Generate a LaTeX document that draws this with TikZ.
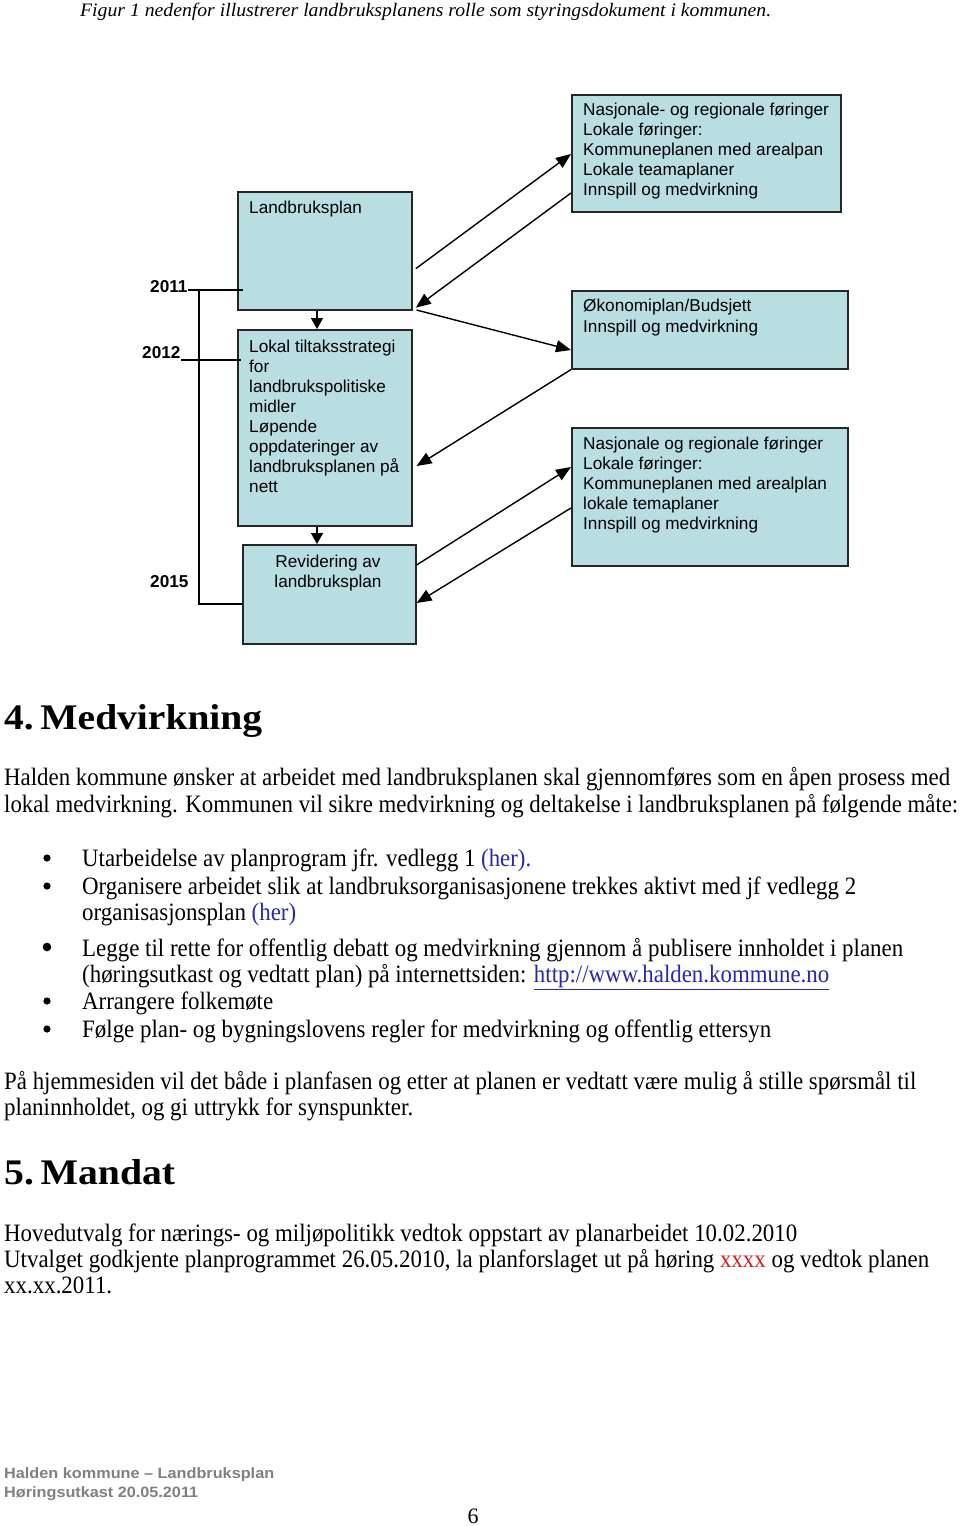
\documentclass[tikz,border=0pt]{standalone}
\usepackage{fontspec}
\usepackage{graphicx}
\setmainfont{Liberation Serif}
\newfontfamily\arial{Liberation Sans}
\usetikzlibrary{arrows.meta,calc}
\definecolor{boxfill}{RGB}{185,222,226}
\definecolor{linkblue}{RGB}{40,40,170}
\definecolor{xred}{RGB}{210,30,30}
\definecolor{footgray}{RGB}{128,128,128}
\newcommand\fitw[2]{\resizebox{#1pt}{\height}{#2}}
\newcommand\bodyfnt{\fontsize{25}{27}\selectfont}
\newcommand\headfnt{\bfseries\fontsize{36}{40}\selectfont}
\newcommand\diafnt{\arial\fontsize{17.2}{20}\selectfont}
\newcommand\footfnt{\arial\bfseries\fontsize{15}{18}\selectfont}
\begin{document}
\begin{tikzpicture}[x=1pt,y=-1pt,
  box/.style={draw=black!85,line width=1.6pt,fill=boxfill,inner sep=0pt,anchor=north west},
  dtext/.style={anchor=base west,inner sep=0pt,font=\diafnt},
  ctext/.style={anchor=base,inner sep=0pt,font=\diafnt},
  year/.style={anchor=base west,inner sep=0pt,font=\diafnt\bfseries},
  btext/.style={anchor=base west,inner sep=0pt,font=\bodyfnt},
  htext/.style={anchor=base west,inner sep=0pt,font=\headfnt},
  ftext/.style={anchor=base west,inner sep=0pt,font=\footfnt,text=footgray},
  arr/.style={line width=1.4pt,-{Triangle[length=15pt,width=12pt]}},
  darr/.style={line width=1.4pt,-{Triangle[length=11pt,width=12pt]}},
  tline/.style={line width=1.4pt},
  bullet/.style={fill=black}
]
\useasboundingbox (0,0) rectangle (960,1526);
\fill[white] (0,0) rectangle (960,1526);

% caption
\node[anchor=base west,inner sep=0pt,font=\itshape\fontsize{19}{22}\selectfont] (cap) at (80,16)
  {\fitw{691}{Figur 1 nedenfor illustrerer landbruksplanens rolle som styringsdokument i kommunen.}};

% ---------- diagram boxes ----------
\node[box,minimum width=174pt,minimum height=118pt] (lp) at (237,191) {};
\node[box,minimum width=174pt,minimum height=196pt] (b2) at (237,329) {};
\node[box,minimum width=173pt,minimum height=99pt] (b3) at (242,544) {};
\node[box,minimum width=269pt,minimum height=117pt] (r1) at (571,94) {};
\node[box,minimum width=276pt,minimum height=78pt] (r2) at (571,290) {};
\node[box,minimum width=276pt,minimum height=138pt] (r3) at (571,427) {};

% box texts
\node[dtext] (lpt) at (249,213) {Landbruksplan};
\foreach \t [count=\i] in {Lokal tiltaksstrategi,for,landbrukspolitiske,midler,Løpende,oppdateringer av,landbruksplanen på,nett}
  \node[dtext] (b2t\i) at (249,332+20*\i) {\t};
\node[ctext] (b3a) at (328,567) {Revidering av};
\node[ctext] (b3b) at (328,587) {landbruksplan};
\foreach \t [count=\i] in {Nasjonale- og regionale føringer,Lokale føringer:,Kommuneplanen med arealpan,Lokale teamaplaner,Innspill og medvirkning}
  \node[dtext] (r1t\i) at (583,94.8+20.2*\i) {\t};
\node[dtext] (r2a) at (583,311) {Økonomiplan/Budsjett};
\node[dtext] (r2b) at (583,332) {Innspill og medvirkning};
\foreach \t [count=\i] in {Nasjonale og regionale føringer,Lokale føringer:,Kommuneplanen med arealplan,lokale temaplaner,Innspill og medvirkning}
  \node[dtext] (r3t\i) at (583,428.8+20.2*\i) {\t};

% years and timeline
\node[year] (y11) at (150,292) {2011};
\node[year] (y12) at (142,358) {2012};
\node[year] (y15) at (150,587) {2015};
\coordinate (t11a) at (188,290);
\coordinate (t11b) at (243,290);
\coordinate (t12a) at (181,360);
\coordinate (t12b) at (241,360);
\coordinate (tv) at (199,290);
\coordinate (tb) at (199,604);
\draw[tline] (t11a) -- (t11b);
\draw[tline] (t12a) -- (t12b);
\draw[tline] (tv) -- (tb) -- (b3.west |- tb);

% vertical arrows
\draw[darr] (lp.south -| 317,0) -- (b2.north -| 317,0);
\draw[darr] (b2.south -| 317,0) -- (b3.north -| 317,0);

% diagonal arrows
\draw[arr,shorten <=4pt] (lp.east |- 0,271) -- (r1.west |- 0,154);
\draw[arr,shorten >=4pt] (r1.west |- 0,193) -- (lp.east |- 0,310);
\draw[arr,shorten <=4pt] (lp.east |- 0,309) -- (r2.west |- 0,350);
\draw[arr] (r2.south west) -- ($(b2.east |- 0,466)+(4,0)$);
\draw[arr] (b3.east |- 0,565) -- (r3.west |- 0,467);
\draw[arr] (r3.west |- 0,508) -- (b3.east |- 0,603);

% ---------- text ----------
\node[htext] (h4) at (4,729) {\fitw{258}{4.\kern-3pt\ Medvirkning}};
\node[btext] (p1a) at (4,785) {\fitw{946}{Halden kommune ønsker at arbeidet med landbruksplanen skal gjennomføres som en åpen prosess med}};
\node[btext] (p1b) at (4,812) {\fitw{954}{lokal medvirkning. Kommunen vil sikre medvirkning og deltakelse i landbruksplanen på følgende måte:}};

\fill[bullet] (47,858) circle (3.6);
\fill[bullet] (47,886) circle (3.6);
\fill[bullet] (47,947) circle (4.3);
\fill[bullet] (47,1001) circle (3.6);
\fill[bullet] (47,1029) circle (3.6);
\node[btext] (l1) at (82,866) {\fitw{449}{Utarbeidelse av planprogram jfr. vedlegg 1 {\color{linkblue}(her).}}};
\node[btext] (l2a) at (82,894) {\fitw{774}{Organisere arbeidet slik at landbruksorganisasjonene trekkes aktivt med jf vedlegg 2}};
\node[btext] (l2b) at (82,920) {\fitw{214}{organisasjonsplan {\color{linkblue}(her)}}};
\node[btext] (l3a) at (82,956) {\fitw{821}{Legge til rette for offentlig debatt og medvirkning gjennom å publisere innholdet i planen}};
\node[btext] (l3b) at (82,982) {\fitw{747}{(høringsutkast og vedtatt plan) på internettsiden: {\color{linkblue}\underline{http://www.halden.kommune.no}}}};
\node[btext] (l4) at (82,1009) {\fitw{191}{Arrangere folkemøte}};
\node[btext] (l5) at (82,1037) {\fitw{689}{Følge plan- og bygningslovens regler for medvirkning og offentlig ettersyn}};

\node[btext] (p2a) at (4,1089) {\fitw{912}{På hjemmesiden vil det både i planfasen og etter at planen er vedtatt være mulig å stille spørsmål til}};
\node[btext] (p2b) at (4,1115) {\fitw{409}{planinnholdet, og gi uttrykk for synspunkter.}};

\node[htext] (h5) at (4,1184) {\fitw{171}{5.\kern-3pt\ Mandat}};
\node[btext] (m1) at (4,1241) {\fitw{793}{Hovedutvalg for nærings- og miljøpolitikk vedtok oppstart av planarbeidet 10.02.2010}};
\node[btext] (m2) at (4,1267) {\fitw{925}{Utvalget godkjente planprogrammet 26.05.2010, la planforslaget ut på høring {\color{xred}xxxx} og vedtok planen}};
\node[btext] (m3) at (4,1293) {\fitw{108}{xx.xx.2011.}};

% footer
\node[ftext] (f1) at (4,1478) {\fitw{270}{Halden kommune – Landbruksplan}};
\node[ftext] (f2) at (4,1497) {\fitw{194}{Høringsutkast 20.05.2011}};
\node[anchor=base,inner sep=0pt,font=\fontsize{22}{24}\selectfont] (pg) at (473,1523) {6};
\end{tikzpicture}
\end{document}
